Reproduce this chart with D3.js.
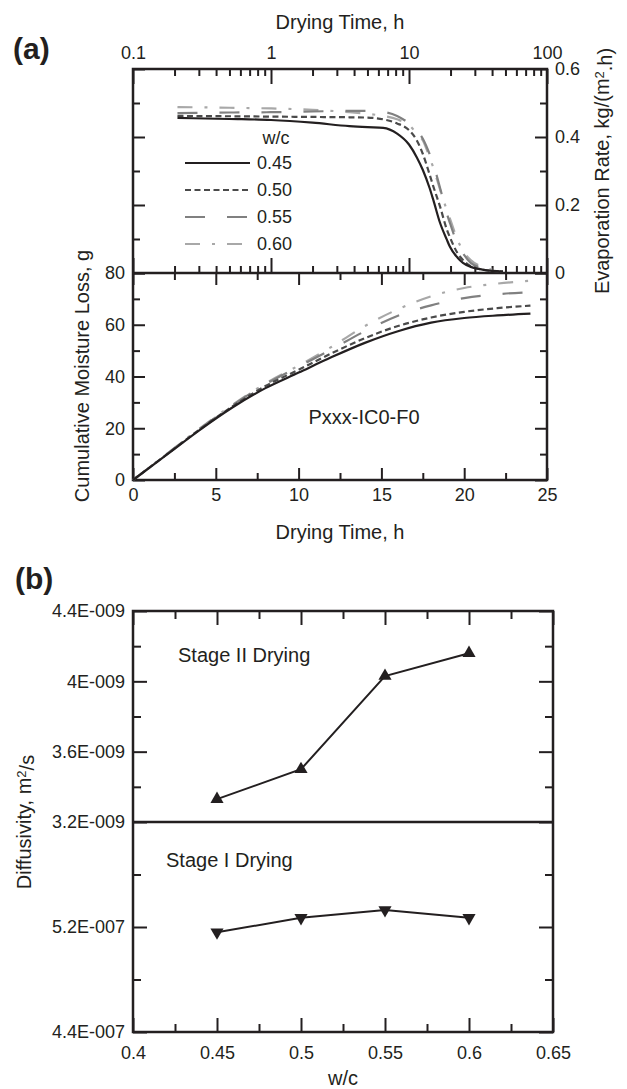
<!DOCTYPE html>
<html><head><meta charset="utf-8">
<script src="https://cdn.jsdelivr.net/npm/d3@7"></script>
<style>
body{margin:0;background:#fff;}
svg text{font-family:"Liberation Sans",Arial,sans-serif;fill:#231f20;}
</style></head>
<body>
<svg id="c" width="627" height="1089"></svg>
<script>
// ---------- DATA ----------
const wcLabels = ["0.45", "0.50", "0.55", "0.60"];
// Evaporation rate vs drying time (log axis)
const rateTime = [0.21, 0.5, 1, 2, 3.7, 5, 6.5, 8.2, 10, 11.4, 12.6, 14.1, 15, 16.8, 18.8, 19.8, 22.5, 24.6, 28, 34, 40, 48];
const rate045 = [0.456, 0.453, 0.450, 0.442, 0.432, 0.429, 0.427, 0.41, 0.378, 0.34, 0.303, 0.25, 0.215, 0.147, 0.098, 0.077, 0.045, 0.03, 0.018, 0.01, 0.006, 0.004];
const rate050 = [0.462, 0.461, 0.460, 0.459, 0.458, 0.457, 0.452, 0.44, 0.42, 0.39, 0.35, 0.29, 0.255, 0.195, 0.128, 0.105, 0.058, 0.038, 0.02, 0.01, 0.006, 0.004];
const rate055 = [0.470, 0.472, 0.473, 0.475, 0.477, 0.477, 0.474, 0.462, 0.44, 0.42, 0.395, 0.35, 0.32, 0.25, 0.175, 0.147, 0.085, 0.058, 0.03, 0.015, 0.008, 0.005];
const rate060 = [0.488, 0.486, 0.484, 0.48, 0.473, 0.468, 0.462, 0.452, 0.435, 0.41, 0.39, 0.34, 0.31, 0.245, 0.185, 0.16, 0.097, 0.065, 0.038, 0.018, 0.01, 0.008];
// Cumulative moisture loss vs drying time
const cumTime = [0, 2, 4, 6, 8, 10, 12, 14, 16, 18, 20, 22, 24];
const cum045 = [0, 9.6, 19.2, 28, 35.5, 41.5, 47.5, 53, 57.5, 60.8, 62.6, 63.6, 64.3];
const cum050 = [0, 9.7, 19.4, 28.4, 36.3, 42.6, 49, 54.8, 59.5, 62.8, 65, 66.4, 67.4];
const cum055 = [0, 9.8, 19.6, 28.8, 37, 43.8, 50.5, 57.5, 63.5, 67.5, 70.3, 71.8, 72.6];
const cum060 = [0, 9.9, 19.8, 29, 37.3, 44.2, 51.5, 59.5, 66, 71, 74.2, 75.9, 77];
// Panel b: diffusivity
const wcValues = [0.45, 0.5, 0.55, 0.6];
const stage2 = [3.33e-9, 3.50e-9, 4.03e-9, 4.16e-9];
const stage1 = [5.16e-7, 5.27e-7, 5.33e-7, 5.27e-7];
// Tick labels
const logMajor = [0.1, 1, 10, 100];
const logMinor = [0.2,0.3,0.4,0.5,0.6,0.7,0.8,0.9,2,3,4,5,6,7,8,9,20,30,40,50,60,70,80,90];
const rateMajor = [0, 0.2, 0.4, 0.6];
const rateMinor = [0.1, 0.3, 0.5];
const timeMajor = [0, 5, 10, 15, 20, 25];
const timeMinor = [2.5, 7.5, 12.5, 17.5, 22.5];
const cumMajor = [0, 20, 40, 60, 80];
const cumMinor = [10, 30, 50, 70];
const wcMajor = [0.4, 0.45, 0.5, 0.55, 0.6, 0.65];
const wcMinor = [0.425, 0.475, 0.525, 0.575, 0.625];
const d2Major = [3.2e-9, 3.6e-9, 4.0e-9, 4.4e-9];
const d2Labels = ["3.2E-009", "3.6E-009", "4E-009", "4.4E-009"];
const d2Minor = [3.4e-9, 3.8e-9, 4.2e-9];
const d1Major = [4.4e-7, 5.2e-7];
const d1Labels = ["4.4E-007", "5.2E-007"];
const d1Minor = [4.8e-7, 5.6e-7];

// ---------- SETUP ----------
const svg = d3.select("#c");
const INK = "#231f20";
const FS = "18px";
const A = {l:133, r:547, t:69, m:273, b:480};
const B = {l:133, r:553, t:611, m:822, b:1032};

const xLog = d3.scaleLog().domain([0.1, 100]).range([A.l, A.r]);
const yRate = d3.scaleLinear().domain([0, 0.6]).range([A.m, A.t]);
const xLin = d3.scaleLinear().domain([0, 25]).range([A.l, A.r]);
const yCum = d3.scaleLinear().domain([0, 80]).range([A.b, A.m]);
const xW = d3.scaleLinear().domain([0.4, 0.65]).range([B.l, B.r]);
const yD2 = d3.scaleLinear().domain([3.2e-9, 4.4e-9]).range([B.m, B.t]);
const yD1 = d3.scaleLinear().domain([4.4e-7, 6.0e-7]).range([B.b, B.m]);

function ax(gen, scale, vals, size, fmt, tx, ty, pad) {
  const a = gen(scale).tickValues(vals).tickSizeInner(-size).tickSizeOuter(0)
    .tickPadding(pad == null ? 6 : pad)
    .tickFormat(fmt || (() => ""));
  const g = svg.append("g").attr("transform", `translate(${tx},${ty})`).call(a);
  g.select(".domain").remove();
  g.selectAll("line").attr("stroke", INK).attr("stroke-width", 2);
  g.selectAll("text").style("font-size", FS).attr("fill", INK);
  return g;
}

// ---------- PANEL A: top (rate) ----------
ax(d3.axisTop, xLog, logMajor, 15, d => d3.format("~g")(d), 0, A.t, 10);
ax(d3.axisTop, xLog, logMinor, 7, null, 0, A.t);
ax(d3.axisBottom, xLog, logMajor, 15, null, 0, A.m);
ax(d3.axisBottom, xLog, logMinor, 7, null, 0, A.m);
ax(d3.axisLeft, yRate, rateMajor, 12, null, A.l, 0);
ax(d3.axisLeft, yRate, rateMinor, 7, null, A.l, 0);
ax(d3.axisRight, yRate, rateMajor, 12, d => d === 0 ? "0" : d.toFixed(1), A.r, 0, 8);
ax(d3.axisRight, yRate, rateMinor, 7, null, A.r, 0);

// ---------- PANEL A: bottom (cumulative) ----------
ax(d3.axisBottom, xLin, timeMajor, 12, d => d, 0, A.b, 8);
ax(d3.axisBottom, xLin, timeMinor, 7, null, 0, A.b);
ax(d3.axisTop, xLin, timeMajor, 12, null, 0, A.m);
ax(d3.axisTop, xLin, timeMinor, 7, null, 0, A.m);
ax(d3.axisLeft, yCum, cumMajor, 12, d => d, A.l, 0, 8);
ax(d3.axisLeft, yCum, cumMinor, 7, null, A.l, 0);
ax(d3.axisRight, yCum, cumMajor, 12, null, A.r, 0);
ax(d3.axisRight, yCum, cumMinor, 7, null, A.r, 0);

// frame panel a
svg.append("rect").attr("x", A.l).attr("y", A.t).attr("width", A.r - A.l).attr("height", A.b - A.t)
  .attr("fill", "none").attr("stroke", INK).attr("stroke-width", 2.5);
svg.append("line").attr("x1", A.l).attr("x2", A.r).attr("y1", A.m).attr("y2", A.m)
  .attr("stroke", INK).attr("stroke-width", 2.5);

const styles = [
  {c: "#231f20", d: null},
  {c: "#4a4a4a", d: "6,3.5"},
  {c: "#808080", d: "20,22"},
  {c: "#a8a8a8", d: "15,12,3,12"}
];
const rates = [rate045, rate050, rate055, rate060];
const cums = [cum045, cum050, cum055, cum060];

const rateLine = d3.line().x(d => xLog(d[0])).y(d => yRate(d[1])).curve(d3.curveMonotoneX);
const cumLine = d3.line().x(d => xLin(d[0])).y(d => yCum(d[1])).curve(d3.curveMonotoneX);

[3,2,1,0].forEach(i => {
  svg.append("path").datum(rateTime.map((t, k) => [t, rates[i][k]])).attr("d", rateLine)
    .attr("fill", "none").attr("stroke", styles[i].c).attr("stroke-width", 2.2)
    .attr("stroke-dasharray", styles[i].d);
  svg.append("path").datum(cumTime.map((t, k) => [t, cums[i][k]])).attr("d", cumLine)
    .attr("fill", "none").attr("stroke", styles[i].c).attr("stroke-width", 2.2)
    .attr("stroke-dasharray", styles[i].d);
});

// legend
svg.append("text").attr("x", 276).attr("y", 138).attr("dy", "0.35em").attr("text-anchor", "middle")
  .style("font-size", FS).text("w/c");
wcLabels.forEach((lab, i) => {
  const y = 163 + i * 27;
  svg.append("line").attr("x1", 185).attr("x2", 250).attr("y1", y).attr("y2", y)
    .attr("stroke", styles[i].c).attr("stroke-width", 2.2).attr("stroke-dasharray", styles[i].d);
  svg.append("text").attr("x", 257).attr("y", y).attr("dy", "0.35em").style("font-size", FS).text(lab);
});

svg.append("text").attr("x", 364).attr("y", 417).attr("dy", "0.35em").attr("text-anchor", "middle")
  .style("font-size", "20px").text("Pxxx-IC0-F0");

// titles
svg.append("text").attr("x", 340).attr("y", 22).attr("dy", "0.35em").attr("text-anchor", "middle")
  .style("font-size", "20px").text("Drying Time, h");
svg.append("text").attr("x", 340).attr("y", 532).attr("dy", "0.35em").attr("text-anchor", "middle")
  .style("font-size", "20px").text("Drying Time, h");
svg.append("text").attr("transform", "translate(82,376) rotate(-90)").attr("dy", "0.35em")
  .attr("text-anchor", "middle").style("font-size", "20px").text("Cumulative Moisture Loss, g");
const rt = svg.append("text").attr("transform", "translate(602,171) rotate(-90)").attr("dy", "0.35em")
  .attr("text-anchor", "middle").style("font-size", "20px");
rt.append("tspan").text("Evaporation Rate, kg/(m");
rt.append("tspan").attr("dy", "-0.4em").style("font-size", "13px").text("2");
rt.append("tspan").attr("dy", "0.4em").text(".h)");

svg.append("text").attr("x", 13).attr("y", 48).attr("dy", "0.35em").style("font-size", "30px")
  .style("font-weight", "bold").text("(a)");
svg.append("text").attr("x", 15).attr("y", 578).attr("dy", "0.35em").style("font-size", "30px")
  .style("font-weight", "bold").text("(b)");

// ---------- PANEL B ----------
ax(d3.axisBottom, xW, wcMajor, 14, d => d3.format("~g")(d), 0, B.b, 14);
ax(d3.axisBottom, xW, wcMinor, 8, null, 0, B.b);
ax(d3.axisTop, xW, wcMajor, 14, null, 0, B.t);
ax(d3.axisTop, xW, wcMinor, 8, null, 0, B.t);
ax(d3.axisLeft, yD2, d2Major, 14, (d, i) => d2Labels[i], B.l, 0, 8);
ax(d3.axisLeft, yD2, d2Minor, 8, null, B.l, 0);
ax(d3.axisRight, yD2, d2Major, 14, null, B.r, 0);
ax(d3.axisRight, yD2, d2Minor, 8, null, B.r, 0);
ax(d3.axisLeft, yD1, d1Major, 14, (d, i) => d1Labels[i], B.l, 0, 8);
ax(d3.axisLeft, yD1, d1Minor, 8, null, B.l, 0);
ax(d3.axisRight, yD1, d1Major, 14, null, B.r, 0);
ax(d3.axisRight, yD1, d1Minor, 8, null, B.r, 0);

svg.append("rect").attr("x", B.l).attr("y", B.t).attr("width", B.r - B.l).attr("height", B.b - B.t)
  .attr("fill", "none").attr("stroke", INK).attr("stroke-width", 2.5);
svg.append("line").attr("x1", B.l).attr("x2", B.r).attr("y1", B.m).attr("y2", B.m)
  .attr("stroke", INK).attr("stroke-width", 2.5);

const lineD2 = d3.line().x((d, i) => xW(wcValues[i])).y(d => yD2(d));
const lineD1 = d3.line().x((d, i) => xW(wcValues[i])).y(d => yD1(d));
svg.append("path").datum(stage2).attr("d", lineD2).attr("fill", "none").attr("stroke", INK).attr("stroke-width", 2);
svg.append("path").datum(stage1).attr("d", lineD1).attr("fill", "none").attr("stroke", INK).attr("stroke-width", 2);
const tri = d3.symbol().type(d3.symbolTriangle).size(75);
svg.selectAll(".t2").data(stage2).enter().append("path")
  .attr("transform", (d, i) => `translate(${xW(wcValues[i])},${yD2(d)})`).attr("d", tri).attr("fill", INK);
svg.selectAll(".t1").data(stage1).enter().append("path")
  .attr("transform", (d, i) => `translate(${xW(wcValues[i])},${yD1(d)}) rotate(180)`).attr("d", tri).attr("fill", INK);

svg.append("text").attr("x", 178).attr("y", 655).attr("dy", "0.35em").style("font-size", "20px").text("Stage II Drying");
svg.append("text").attr("x", 166).attr("y", 860).attr("dy", "0.35em").style("font-size", "20px").text("Stage I Drying");
svg.append("text").attr("x", 343).attr("y", 1078).attr("dy", "0.35em").attr("text-anchor", "middle")
  .style("font-size", "20px").text("w/c");
const dt = svg.append("text").attr("transform", "translate(24,822) rotate(-90)").attr("dy", "0.35em")
  .attr("text-anchor", "middle").style("font-size", "20px");
dt.append("tspan").text("Diffusivity, m");
dt.append("tspan").attr("dy", "-0.4em").style("font-size", "13px").text("2");
dt.append("tspan").attr("dy", "0.4em").text("/s");
</script>
</body></html>
